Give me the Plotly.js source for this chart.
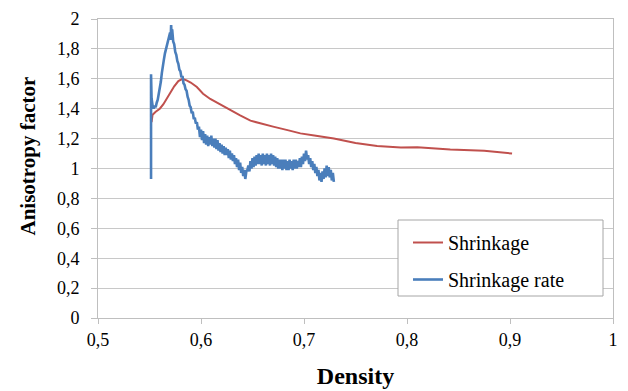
<!DOCTYPE html>
<html>
<head>
<meta charset="utf-8">
<script src="https://cdn.plot.ly/plotly-3.0.1.min.js"></script>
<style>html,body{margin:0;padding:0;background:#fff;}#chart{width:628px;height:391px;}</style>
</head>
<body>
<div id="chart"></div>
<script>
const shrinkX = [0.552,0.553,0.556,0.560,0.5635,0.567,0.570,0.574,0.578,0.582,0.586,0.590,0.596,0.602,0.609,0.618,0.628,0.638,0.648,0.658,0.670,0.685,0.6965,0.710,0.729,0.750,0.771,0.794,0.810,0.842,0.875,0.902];
const shrinkY = [1.31,1.36,1.38,1.40,1.43,1.47,1.50,1.55,1.585,1.60,1.59,1.575,1.545,1.50,1.465,1.43,1.39,1.355,1.32,1.30,1.28,1.255,1.235,1.22,1.20,1.17,1.15,1.14,1.142,1.127,1.118,1.10];

const rateX = [0.5515,0.5515,0.5516,0.552,0.553,0.554,0.555,0.556,0.557,0.558,0.559,0.560,0.561,0.562,0.563,0.564,0.565,0.566,0.567,0.568,0.569,0.570,0.5705,0.571,0.5715,0.572,0.573,0.574,0.575,0.576,0.577,0.578,0.579,0.580,0.581,0.582,0.583,0.584,0.585,0.586,0.587,0.588,0.589,0.590,0.591,0.592,0.593,0.594,0.595,0.596,0.597,0.598,0.599,0.600,0.601,0.602,0.603,0.604,0.605,0.606,0.607,0.608,0.609,0.610,0.611,0.612,0.613,0.614,0.615,0.616,0.617,0.618,0.619,0.620,0.621,0.622,0.623,0.624,0.625,0.626,0.627,0.628,0.629,0.630,0.631,0.632,0.633,0.634,0.635,0.636,0.637,0.638,0.639,0.640,0.641,0.642,0.643,0.644,0.645,0.646,0.647,0.648,0.649,0.650,0.651,0.652,0.653,0.654,0.655,0.656,0.657,0.658,0.659,0.660,0.661,0.662,0.663,0.664,0.665,0.666,0.667,0.668,0.669,0.670,0.671,0.672,0.673,0.674,0.675,0.676,0.677,0.678,0.679,0.680,0.681,0.682,0.683,0.684,0.685,0.686,0.687,0.688,0.689,0.690,0.691,0.692,0.693,0.694,0.695,0.696,0.697,0.698,0.699,0.700,0.701,0.702,0.703,0.704,0.705,0.706,0.707,0.708,0.709,0.710,0.711,0.712,0.713,0.714,0.715,0.716,0.717,0.718,0.719,0.720,0.721,0.722,0.723,0.724,0.725,0.726,0.727,0.728,0.729];
const rateY = [0.93,1.63,1.45,1.47,1.42,1.40,1.42,1.41,1.44,1.46,1.50,1.53,1.58,1.64,1.70,1.73,1.77,1.80,1.84,1.85,1.88,1.91,1.86,1.96,1.88,1.93,1.85,1.83,1.78,1.76,1.72,1.70,1.66,1.65,1.61,1.62,1.57,1.56,1.53,1.52,1.48,1.46,1.42,1.41,1.37,1.38,1.33,1.34,1.30,1.31,1.26,1.28,1.21,1.26,1.19,1.25,1.17,1.23,1.16,1.22,1.15,1.21,1.16,1.22,1.15,1.20,1.14,1.20,1.13,1.19,1.12,1.17,1.11,1.16,1.10,1.15,1.09,1.14,1.09,1.13,1.07,1.12,1.06,1.10,1.05,1.09,1.03,1.07,1.01,1.06,0.99,1.04,0.97,1.01,0.95,0.99,0.93,0.98,0.99,1.02,0.98,1.05,1.00,1.07,1.01,1.08,1.02,1.09,1.03,1.10,1.03,1.09,1.02,1.10,1.03,1.09,1.02,1.10,1.03,1.09,1.02,1.10,1.03,1.09,1.02,1.08,1.01,1.07,1.00,1.06,1.00,1.06,0.99,1.06,1.00,1.06,0.99,1.05,0.99,1.06,1.00,1.05,0.99,1.06,1.00,1.06,1.00,1.05,1.01,1.07,1.01,1.08,1.03,1.10,1.05,1.12,1.06,1.09,1.03,1.07,1.01,1.05,0.99,1.03,0.97,1.01,0.95,0.99,0.92,0.97,0.91,0.98,0.93,1.00,0.94,1.02,0.95,1.01,0.94,0.99,0.92,0.97,0.91];

const xTicks = [0.5,0.6,0.7,0.8,0.9,1];
const xTickText = ['0,5','0,6','0,7','0,8','0,9','1'];
const yTicks = [0,0.2,0.4,0.6,0.8,1,1.2,1.4,1.6,1.8,2];
const yTickText = ['0','0,2','0,4','0,6','0,8','1','1,2','1,4','1,6','1,8','2'];
const xTitle = 'Density';
const yTitle = 'Anisotropy factor';

const fontFam = 'Liberation Serif, serif';

const traces = [
  {x: shrinkX, y: shrinkY, type: 'scatter', mode: 'lines', name: 'Shrinkage', legendgroup: 'a',
   line: {color: '#c0504d', width: 2}},
  {x: rateX, y: rateY, type: 'scatter', mode: 'lines', name: 'Shrinkage rate', legendgroup: 'b',
   line: {color: '#4a7ebb', width: 2.6}}
];

const layout = {
  width: 628, height: 391,
  margin: {l: 98, r: 15, t: 19, b: 73},
  paper_bgcolor: '#ffffff', plot_bgcolor: '#ffffff',
  separators: ', ',
  font: {family: fontFam, color: '#000000', size: 16},
  xaxis: {
    range: [0.5, 1], tickvals: xTicks, ticktext: xTickText,
    showgrid: false, zeroline: false,
    showline: true, linecolor: '#bfbfbf', linewidth: 1, mirror: true,
    ticks: 'outside', ticklen: 5, tickcolor: '#bfbfbf',
    tickfont: {family: fontFam, size: 18, color: '#000'},
    title: {text: '<b>' + xTitle + '</b>', font: {family: fontFam, size: 24, color: '#000'}, standoff: 18}
  },
  yaxis: {
    range: [0, 2], tickvals: yTicks, ticktext: yTickText,
    showgrid: true, gridcolor: '#c8c8c8', gridwidth: 1, zeroline: false,
    showline: true, linecolor: '#bfbfbf', linewidth: 1, mirror: true,
    ticks: 'outside', ticklen: 6, tickcolor: '#bfbfbf', ticklabelstandoff: 8,
    tickfont: {family: fontFam, size: 18, color: '#000'}
  },
  annotations: [{
    text: '<b>' + yTitle + '</b>', textangle: -90, showarrow: false,
    xref: 'paper', yref: 'paper', x: (27.5-98)/515, y: (318-156)/299,
    xanchor: 'center', yanchor: 'middle',
    font: {family: fontFam, size: 21, color: '#000'}
  }],
  shapes: [{
    type: 'rect', xref: 'paper', yref: 'paper', layer: 'above',
    x0: (398-98)/515, x1: (603-98)/515, y0: (318-296)/299, y1: (318-220)/299,
    fillcolor: '#ffffff', line: {color: '#a6a6a6', width: 1}
  }],
  showlegend: true,
  legend: {
    x: (408-98)/515, y: (318-223)/299, xanchor: 'left', yanchor: 'top',
    bgcolor: 'rgba(0,0,0,0)', borderwidth: 0,
    font: {family: fontFam, size: 20, color: '#000'},
    tracegroupgap: 8
  }
};

Plotly.newPlot('chart', traces, layout, {displayModeBar: false, staticPlot: true});
</script>
</body>
</html>
